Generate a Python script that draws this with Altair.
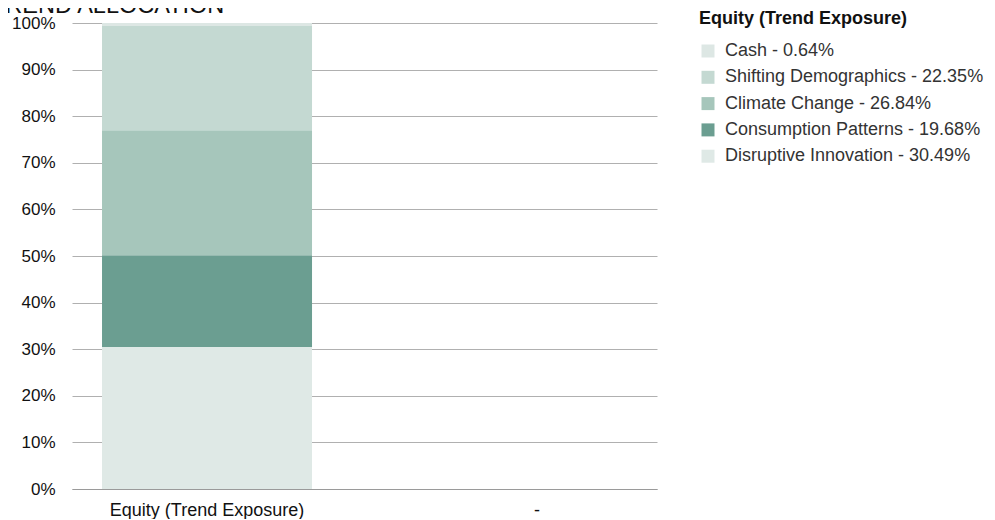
import altair as alt
import pandas as pd

categories = ["Equity (Trend Exposure)", "-"]
segments = ["Disruptive Innovation", "Consumption Patterns", "Climate Change",
            "Shifting Demographics", "Cash"]
values = [30.49, 19.68, 26.84, 22.35, 0.64]
colors = ["#dfe9e6", "#6b9e91", "#a6c6bb", "#c4d9d2", "#dde7e4"]

labels = [f"{s} - {v:.2f}%" for s, v in zip(segments, values)]
df = pd.DataFrame({
    "cat": [categories[0]] * len(segments),
    "segment": labels,
    "order": list(range(len(segments))),
    "value": [v / 100 for v in values],
})
legend_order = labels[::-1]

FONT = "Liberation Sans"

bars = alt.Chart(df).mark_bar().encode(
    x=alt.X("cat:N",
            scale=alt.Scale(type="band", domain=categories, paddingInner=0.3636,
                            paddingOuter=0.0682, align=0.667),
            axis=alt.Axis(title=None, labelAngle=0, ticks=False, domain=True, domainColor="#9a9a9a",
                          labelFontSize=18, labelColor="#111", labelFont=FONT, labelPadding=12,
                          labelLimit=0, grid=False)),
    y=alt.Y("value:Q", stack="zero", scale=alt.Scale(domain=[0, 1], nice=False),
            axis=alt.Axis(title=None, format=".0%", values=[i / 10 for i in range(11)],
                          ticks=False, domain=False, gridColor="#b0b0b0", gridWidth=1,
                          labelFontSize=17, labelColor="#111", labelFont=FONT, labelPadding=17)),
    color=alt.Color("segment:N",
                    scale=alt.Scale(domain=labels, range=colors),
                    sort=legend_order,
                    legend=alt.Legend(title="Equity (Trend Exposure)", orient="none",
                                      legendX=627, legendY=-13,
                                      titleFont=FONT, titleFontSize=18, titleFontWeight="bold",
                                      titleColor="#111", titlePadding=14, titleLimit=0,
                                      labelFont=FONT, labelFontSize=18, labelColor="#333",
                                      labelLimit=0,
                                      symbolType="square", symbolSize=169, symbolStrokeWidth=0,
                                      rowPadding=8.3, labelOffset=8, values=legend_order)),
    order=alt.Order("order:Q", sort="ascending"),
)

title = alt.Chart(pd.DataFrame({"t": ["TREND ALLOCATION"]})).mark_text(
    align="left", baseline="alphabetic", fontSize=23.5, font=FONT, color="#111"
).encode(x=alt.value(-81), y=alt.value(-10), text="t:N")

chart = alt.layer(bars, title).properties(
    width=585, height=466,
    autosize=alt.AutoSizeParams(type="none"),
    padding={"left": 64, "top": 15, "right": 330, "bottom": 30},
).configure_view(stroke=None)

chart.save("out.html", embed_options={"renderer": "svg", "actions": False})
